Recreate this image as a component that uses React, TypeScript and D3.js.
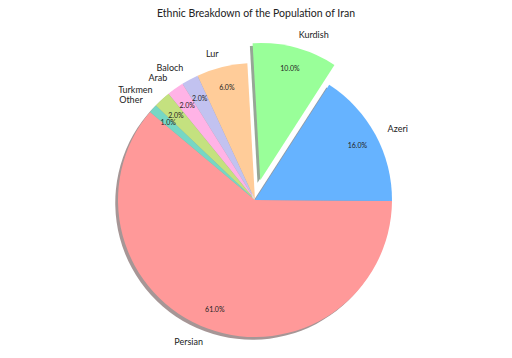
import React from "react";
import * as d3 from "d3";

const labels = ["Persian", "Azeri", "Kurdish", "Lur", "Baloch", "Arab", "Turkmen", "Other"];
const values = [61, 16, 10, 6, 2, 2, 2, 1];
const colors = ["#ff9999", "#66b3ff", "#99ff99", "#ffcc99", "#c2c2f0", "#ffb3e6", "#c4e17f", "#76d7c4"];
const explode = [0, 0, 0.15, 0, 0, 0, 0, 0];
const title = "Ethnic Breakdown of the Population of Iran";

const W = 512;
const H = 358;
const cx = 255;
const cy = 200;
const R = 137;
const startDeg = 140;

export default function App() {
  const toD3 = (deg: number) => Math.PI / 2 - (deg * Math.PI) / 180;
  const s = toD3(startDeg);
  const pie = d3
    .pie<number>()
    .sort(null)
    .value((d) => d)
    .startAngle(s)
    .endAngle(s - 2 * Math.PI);
  const arcs = pie(values);
  const arc = d3.arc<d3.PieArcDatum<number>>().innerRadius(0).outerRadius(R);
  const font = "Lato, 'Open Sans', sans-serif";
  const shOff = 0.02 * R;

  const items = arcs.map((a, i) => {
    const mid = (a.startAngle + a.endAngle) / 2;
    const ex = explode[i] * R;
    const ox = Math.sin(mid) * ex;
    const oy = -Math.cos(mid) * ex;
    const c = d3.rgb(colors[i]);
    const shadow = d3.rgb(c.r * 0.3, c.g * 0.3, c.b * 0.3).toString();
    const ld = 1.1 * R;
    const pd = 0.85 * R;
    return {
      a,
      i,
      ox,
      oy,
      shadow,
      lx: ox + Math.sin(mid) * ld,
      ly: oy - Math.cos(mid) * ld,
      px: ox + Math.sin(mid) * pd,
      py: oy - Math.cos(mid) * pd,
    };
  });

  return (
    <svg
      width={W}
      height={H}
      style={{ position: "absolute", left: 0, top: 0, background: "#fff" }}
      fontFamily={font}
    >
      <text x={256} y={13} textAnchor="middle" dominantBaseline="central" fontSize={10.5} fill="#222">
        {title}
      </text>
      <g transform={`translate(${cx},${cy})`}>
        {items.map((d) => (
          <path
            key={"s" + d.i}
            d={arc(d.a) || ""}
            transform={`translate(${d.ox - shOff},${d.oy + shOff})`}
            fill={d.shadow}
            fillOpacity={0.5}
          />
        ))}
        {items.map((d) => (
          <path
            key={"w" + d.i}
            d={arc(d.a) || ""}
            transform={`translate(${d.ox},${d.oy})`}
            fill={colors[d.i]}
          />
        ))}
        {items.map((d) => (
          <text
            key={"l" + d.i}
            x={d.lx}
            y={d.ly}
            textAnchor={d.lx > 0 ? "start" : "end"}
            dominantBaseline="central"
            fontSize={9}
            fill="#222"
          >
            {labels[d.i]}
          </text>
        ))}
        {items.map((d) => (
          <text
            key={"p" + d.i}
            x={d.px}
            y={d.py}
            textAnchor="middle"
            dominantBaseline="central"
            fontSize={7}
            fill="#222"
          >
            {values[d.i].toFixed(1) + "%"}
          </text>
        ))}
      </g>
    </svg>
  );
}
